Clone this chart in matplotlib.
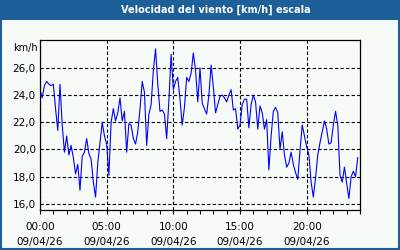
import matplotlib
matplotlib.use("Agg")
import matplotlib.pyplot as plt
import matplotlib.dates as mdates
import matplotlib.ticker as mticker
import pandas as pd
from matplotlib.patches import Rectangle

# wind speed, one reading every 10 minutes starting 09/04/26 00:00
speed = [
    24.4, 23.8, 24.7, 25.0, 24.8, 24.7, 24.8, 23.0, 21.4, 24.8,
    21.8, 19.8, 21.0, 19.6, 20.3, 19.4, 18.2, 18.9, 17.0, 19.5,
    19.8, 20.8, 19.7, 19.3, 17.6, 16.5, 19.0, 20.5, 22.0, 21.0,
    20.4, 18.1, 22.0, 23.0, 22.1, 22.7, 23.8, 22.1, 22.8, 19.8,
    21.9, 21.8, 20.8, 20.4, 21.3, 23.0, 25.0, 24.2, 20.3, 22.6,
    23.3, 25.8, 27.4, 24.8, 22.8, 22.9, 22.6, 20.8, 23.6, 27.0,
    24.4, 25.0, 25.3, 23.7, 21.8, 23.1, 25.3, 25.0, 25.6, 27.1,
    25.8, 23.5, 26.0, 23.4, 23.0, 22.6, 24.0, 26.2, 24.6, 22.7,
    23.3, 23.9, 24.0, 23.8, 23.5, 24.0, 24.4, 22.9, 23.0, 21.5,
    21.8, 23.3, 23.7, 23.7, 21.6, 23.3, 24.0, 23.5, 21.5, 23.2,
    22.7, 21.5, 22.2, 18.5, 21.0, 22.8, 23.1, 22.7, 20.0, 21.3,
    19.6, 18.7, 19.0, 19.8, 18.9, 18.3, 17.8, 19.9, 21.8, 21.0,
    20.2, 19.6, 17.6, 16.5, 17.9, 19.6, 20.5, 21.3, 22.1, 21.5,
    20.4, 20.5, 21.8, 22.8, 21.8, 18.1, 17.6, 18.7, 17.5, 16.4,
    18.0, 18.4, 18.0, 19.4,
]
times = pd.date_range("2026-04-09 00:00", periods=len(speed), freq="10min")

title = "Velocidad del viento [km/h] escala"
unit = "km/h"
y_ticks = [16, 18, 20, 22, 24, 26]
x_tick_hours = [0, 5, 10, 15, 20]

bg = "#f7fbf7"
blue = "#1d5f98"

fig = plt.figure(figsize=(4, 2.5), dpi=100, facecolor=bg)

# title bar and frame
fig.patches.append(Rectangle((0, 0.92), 1, 0.08, transform=fig.transFigure,
                             facecolor=blue, edgecolor="none", zorder=0))
fig.patches.append(Rectangle((0.0025, 0.004), 0.995, 0.996, transform=fig.transFigure,
                             facecolor="none", edgecolor=blue, linewidth=1.5, zorder=5))
fig.text(0.54, 0.961, title, color="white", fontsize=7, fontweight="bold",
         ha="center", va="center")

ax = fig.add_axes([0.1, 0.16, 0.8, 0.68])
ax.set_facecolor(bg)
ax.plot(times, speed, color="#0000ff", linewidth=0.8)

start = pd.Timestamp("2026-04-09 00:00")
ax.set_xlim(start, start + pd.Timedelta(hours=24))
ax.set_ylim(15.55, 28.05)

major = [mdates.date2num(start + pd.Timedelta(hours=h)) for h in x_tick_hours]
ax.xaxis.set_major_locator(mticker.FixedLocator(major))
ax.xaxis.set_minor_locator(mdates.HourLocator())
ax.xaxis.set_major_formatter(mdates.DateFormatter("%H:%M\n%d/%m/%y"))
ax.set_yticks(y_ticks)
ax.set_yticklabels([f"{v:.1f}".replace(".", ",") for v in y_ticks])

ax.tick_params(axis="x", which="both", direction="out", length=3, width=0.8,
               labelsize=7.5, pad=6, colors="black")
ax.tick_params(axis="y", length=0, labelsize=7.5, pad=3)
for lbl in ax.get_xticklabels():
    lbl.set_linespacing(1.5)

ax.grid(True, which="major", color="black", linestyle=(0, (3, 2)), linewidth=0.8)
for s in ax.spines.values():
    s.set_color("black")
    s.set_linewidth(0.9)

fig.text(0.032, 0.808, unit, fontsize=7, ha="left", va="center")

fig.savefig("out.png", dpi=100, facecolor=bg)
